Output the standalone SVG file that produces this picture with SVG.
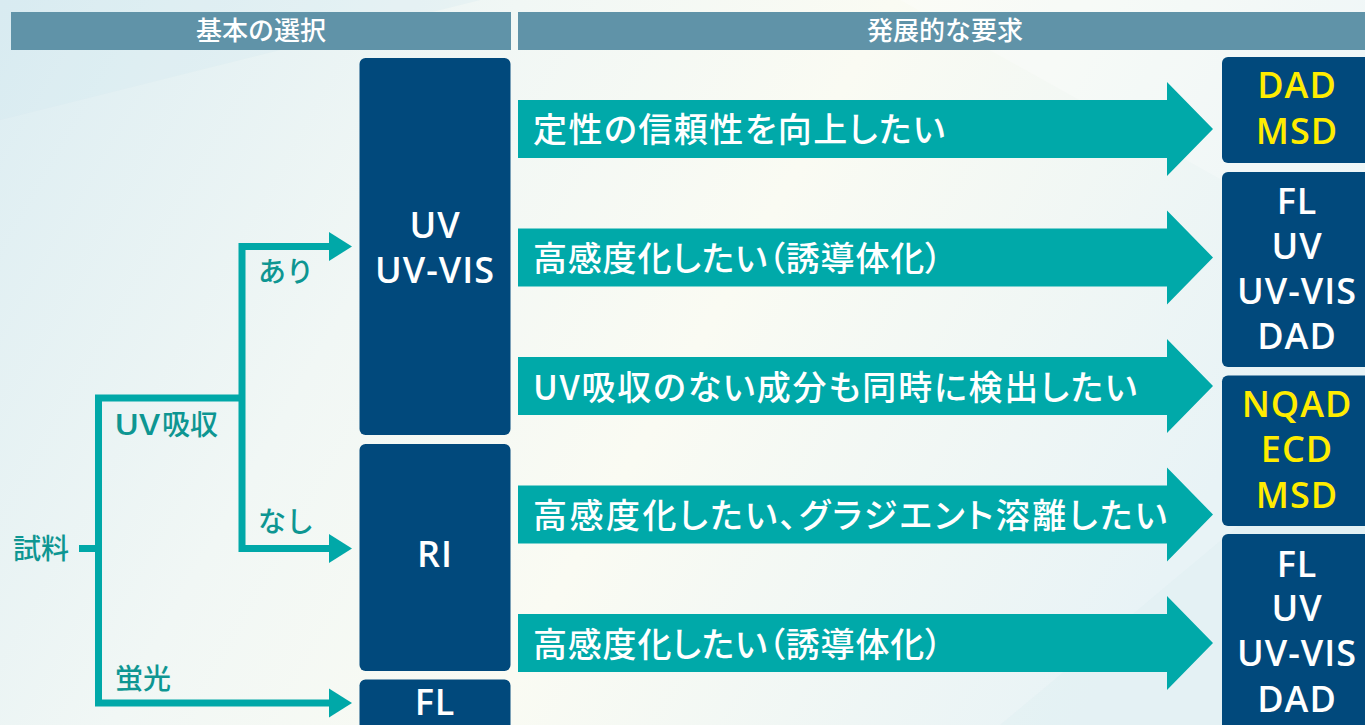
<svg xmlns="http://www.w3.org/2000/svg" width="1365" height="725" viewBox="0 0 1365 725">
  <defs>
    <linearGradient id="bg" x1="0" y1="0" x2="1" y2="0.3">
      <stop offset="0" stop-color="#dcedf2"/>
      <stop offset="0.35" stop-color="#f1f7f5"/>
      <stop offset="0.6" stop-color="#fafbf3"/>
      <stop offset="1" stop-color="#e8f3f6"/>
    </linearGradient>
    <style>
      .hdr { fill: #6093a8; }
      .hdrt { fill: #ffffff; font-family: "Noto Sans CJK JP", sans-serif; font-size: 26px; font-weight: 500; text-anchor: middle; }
      .tree { fill: none; stroke: #00a8a8; stroke-width: 7; stroke-linejoin: miter; stroke-linecap: butt; }
      .head { fill: #00a8a8; }
      .lbl { fill: #0e9692; font-family: "Noto Sans CJK JP", sans-serif; font-size: 28px; font-weight: 500; }
      .box { fill: #01497c; }
      .bt { fill: #ffffff; font-family: "Open Sans", "Noto Sans", sans-serif; font-size: 36px; font-weight: 600; letter-spacing: 1px; text-anchor: middle; }
      .yl { fill: #ffec00; }
      .arr { fill: #00a9a9; }
      .at { fill: #ffffff; font-family: "Noto Sans CJK JP", sans-serif; font-size: 34px; font-weight: 500; font-feature-settings: "palt"; }
    </style>
  </defs>

  <rect x="0" y="0" width="1365" height="725" fill="url(#bg)"/>
  <g opacity="0.25">
    <polygon points="0,0 480,0 0,120" fill="#cfe6ee"/>
    <polygon points="900,0 1365,0 1365,260" fill="#ffffff"/>
    <polygon points="1000,725 1365,420 1365,725" fill="#d6ebf0"/>
  </g>

  <g id="headers">
    <rect class="hdr" x="11" y="12" width="500" height="38"/>
    <text class="hdrt" x="261" y="40">基本の選択</text>
    <rect class="hdr" x="518" y="12" width="847" height="38"/>
    <text class="hdrt" x="945" y="40">発展的な要求</text>
  </g>

  <g id="connectors">
    <path class="tree" d="M79,548.5 H98.5"/>
    <path class="tree" d="M330,703 H98.5 V398 H242"/>
    <path class="tree" d="M330,246.5 H242 V548.5 H330"/>
    <polygon class="head" points="329,232 352,246.5 329,261"/>
    <polygon class="head" points="329,534 352,548.5 329,563"/>
    <polygon class="head" points="329,688.5 352,703 329,717.5"/>
  </g>

  <g id="labels">
    <text class="lbl" x="13" y="559">試料</text>
    <text class="lbl" x="114" y="435"><tspan textLength="46" lengthAdjust="spacingAndGlyphs">UV</tspan><tspan x="162">吸収</tspan></text>
    <text class="lbl" x="258" y="282">あり</text>
    <text class="lbl" x="258" y="532">なし</text>
    <text class="lbl" x="115" y="689">蛍光</text>
  </g>

  <g id="node-uv">
    <rect class="box" x="359.5" y="58" width="151" height="377" rx="6"/>
    <text class="bt" x="435" y="238">UV</text>
    <text class="bt" x="435" y="283">UV-VIS</text>
  </g>
  <g id="node-ri">
    <rect class="box" x="359.5" y="444" width="151" height="227" rx="6"/>
    <text class="bt" x="435" y="567">RI</text>
  </g>
  <g id="node-fl">
    <rect class="box" x="359.5" y="679.5" width="151" height="60" rx="6"/>
    <text class="bt" x="435" y="715">FL</text>
  </g>

  <g id="arrow-1">
    <polygon class="arr" points="518,100 1167,100 1167,82 1213,129 1167,176 1167,158 518,158"/>
    <text class="at" x="533" y="142" textLength="412" lengthAdjust="spacing">定性の信頼性を向上したい</text>
  </g>
  <g id="arrow-2">
    <polygon class="arr" points="518,228.5 1167,228.5 1167,210.5 1213,257.5 1167,304.5 1167,286.5 518,286.5"/>
    <text class="at" x="533" y="271" textLength="409" lengthAdjust="spacing">高感度化したい（誘導体化）</text>
  </g>
  <g id="arrow-3">
    <polygon class="arr" points="518,357 1167,357 1167,339 1213,386 1167,433 1167,415 518,415"/>
    <text class="at" x="533" y="399.5" textLength="604" lengthAdjust="spacing">UV吸収のない成分も同時に検出したい</text>
  </g>
  <g id="arrow-4">
    <polygon class="arr" points="518,485.5 1167,485.5 1167,467.5 1213,514.5 1167,561.5 1167,543.5 518,543.5"/>
    <text class="at" x="533" y="528" textLength="634" lengthAdjust="spacing">高感度化したい、グラジエント溶離したい</text>
  </g>
  <g id="arrow-5">
    <polygon class="arr" points="518,614 1167,614 1167,596 1213,643 1167,690 1167,672 518,672"/>
    <text class="at" x="533" y="656.5" textLength="409" lengthAdjust="spacing">高感度化したい（誘導体化）</text>
  </g>

  <g id="node-r1">
    <rect class="box" x="1222" y="57" width="160" height="106" rx="6"/>
    <text class="bt yl" x="1297" y="98">DAD</text>
    <text class="bt yl" x="1297" y="144">MSD</text>
  </g>
  <g id="node-r2">
    <rect class="box" x="1222" y="172" width="160" height="195" rx="6"/>
    <text class="bt" x="1297" y="214">FL</text>
    <text class="bt" x="1297" y="259">UV</text>
    <text class="bt" x="1297" y="304">UV-VIS</text>
    <text class="bt" x="1297" y="349">DAD</text>
  </g>
  <g id="node-r3">
    <rect class="box" x="1222" y="375.5" width="160" height="150.5" rx="6"/>
    <text class="bt yl" x="1297" y="417">NQAD</text>
    <text class="bt yl" x="1297" y="462">ECD</text>
    <text class="bt yl" x="1297" y="508">MSD</text>
  </g>
  <g id="node-r4">
    <rect class="box" x="1222" y="534" width="160" height="200" rx="6"/>
    <text class="bt" x="1297" y="577">FL</text>
    <text class="bt" x="1297" y="621">UV</text>
    <text class="bt" x="1297" y="666">UV-VIS</text>
    <text class="bt" x="1297" y="712">DAD</text>
  </g>
</svg>
